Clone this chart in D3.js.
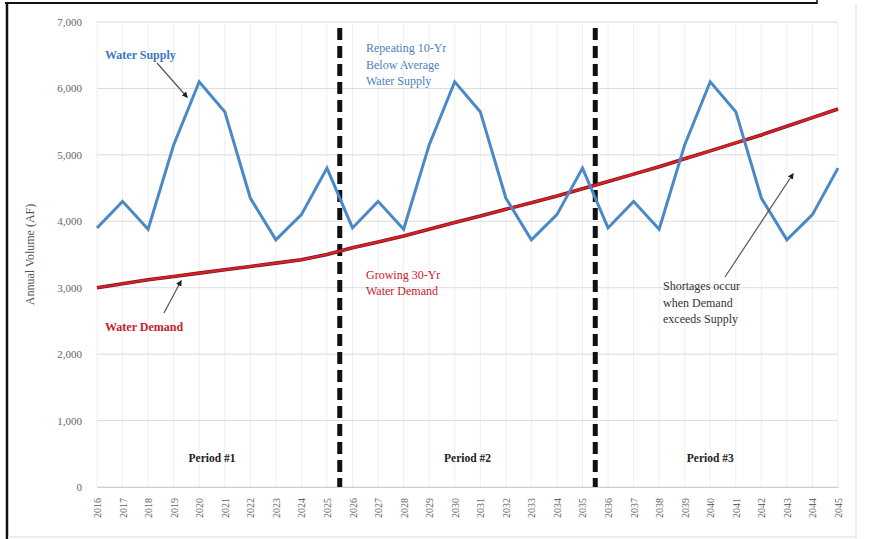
<!DOCTYPE html>
<html>
<head>
<meta charset="utf-8">
<script src="https://cdn.jsdelivr.net/npm/d3@7"></script>
<style>
  body { margin: 0; background: #fff; }
  svg { display: block; font-family: "Liberation Serif", "Times New Roman", serif; }
</style>
</head>
<body>
<div id="chart"></div>
<script>
// chart data
const years = d3.range(2016, 2046);
const supply10 = [3900, 4300, 3880, 5150, 6100, 5650, 4350, 3720, 4100, 4800];
const supply = [...supply10, ...supply10, ...supply10];
const demand = [3000, 3060, 3120, 3170, 3220, 3270, 3320, 3370, 3420, 3500,
                3600, 3690, 3780, 3880, 3980, 4080, 4180, 4280, 4380, 4490,
                4600, 4710, 4820, 4940, 5060, 5180, 5300, 5430, 5560, 5690];
const yTicks = [0, 1000, 2000, 3000, 4000, 5000, 6000, 7000];
const dividers = [2025.5, 2035.5];
const periods = [{ label: "Period #1", at: 2020.5 }, { label: "Period #2", at: 2030.5 }, { label: "Period #3", at: 2040 }];

const W = 871, H = 539;
const svg = d3.select("#chart").append("svg").attr("width", W).attr("height", H);

const x = d3.scalePoint().domain(years).range([97, 838]).padding(0);
const xv = (v) => x(2016) + (v - 2016) * x.step(); // fractional year position
const y = d3.scaleLinear().domain([0, 7000]).range([487, 22]);

// page frame (cropped document)
svg.append("line").attr("x1", 5).attr("x2", 817).attr("y1", 3).attr("y2", 3).attr("stroke", "#111").attr("stroke-width", 2);
svg.append("line").attr("x1", 817).attr("x2", 817).attr("y1", 0).attr("y2", 4).attr("stroke", "#111").attr("stroke-width", 1.5);
svg.append("line").attr("x1", 7).attr("x2", 7).attr("y1", 3).attr("y2", H).attr("stroke", "#111").attr("stroke-width", 2.5);
svg.append("line").attr("x1", 856).attr("x2", 856).attr("y1", 4).attr("y2", H).attr("stroke", "#e6e6e6").attr("stroke-width", 1.5);
svg.append("line").attr("x1", 8).attr("x2", 856).attr("y1", 537).attr("y2", 537).attr("stroke", "#ececec").attr("stroke-width", 2);

// gridlines
svg.append("g").selectAll("line").data(years).join("line")
  .attr("x1", d => x(d)).attr("x2", d => x(d))
  .attr("y1", y(7000)).attr("y2", y(0))
  .attr("stroke", "#efefef").attr("stroke-width", 1);
svg.append("g").selectAll("line").data(yTicks).join("line")
  .attr("x1", x(2016)).attr("x2", x(2045))
  .attr("y1", d => y(d)).attr("y2", d => y(d))
  .attr("stroke", "#dcdcdc").attr("stroke-width", 1);

// axes
const yAxis = svg.append("g").attr("transform", `translate(${x(2016) - 12},0)`)
  .call(d3.axisLeft(y).tickValues(yTicks).tickSize(0).tickFormat(d3.format(",")));
yAxis.select(".domain").remove();
yAxis.selectAll("text").attr("font-family", "Liberation Serif").attr("font-size", 11).attr("fill", "#666");

const xAxis = svg.append("g").attr("transform", `translate(0,${y(0)})`)
  .call(d3.axisBottom(x).tickSize(0).tickFormat(d3.format("d")));
xAxis.select(".domain").attr("stroke", "#cfcfcf");
xAxis.selectAll("text")
  .attr("font-family", "Liberation Serif").attr("font-size", 10).attr("fill", "#666")
  .attr("transform", "rotate(-90)")
  .attr("text-anchor", "end").attr("dx", "-0.5em").attr("dy", "-0.05em").attr("y", 4)
  .attr("x", -6);

svg.append("text")
  .attr("transform", `translate(34,${(y(0) + y(7000)) / 2}) rotate(-90)`)
  .attr("text-anchor", "middle").attr("font-size", 12).attr("fill", "#555")
  .text("Annual Volume (AF)");

// period dividers
svg.append("g").selectAll("line").data(dividers).join("line")
  .attr("x1", d => xv(d)).attr("x2", d => xv(d))
  .attr("y1", 28).attr("y2", y(0))
  .attr("stroke", "#111").attr("stroke-width", 5).attr("stroke-dasharray", "12,6");

// series
const line = d3.line().x((d, i) => x(years[i])).y(d => y(d));
svg.append("path").datum(demand).attr("d", line)
  .attr("fill", "none").attr("stroke", "#7a1414").attr("stroke-width", 3.6).attr("stroke-linejoin", "round");
svg.append("path").datum(demand).attr("d", line)
  .attr("fill", "none").attr("stroke", "#d8202a").attr("stroke-width", 2.2).attr("stroke-linejoin", "round");
svg.append("path").datum(supply).attr("d", line)
  .attr("fill", "none").attr("stroke", "#4a89c8").attr("stroke-width", 3).attr("stroke-linejoin", "miter");

// arrows
const defs = svg.append("defs");
defs.append("marker").attr("id", "ah").attr("viewBox", "0 0 10 10").attr("refX", 8).attr("refY", 5)
  .attr("markerWidth", 5).attr("markerHeight", 5).attr("orient", "auto")
  .append("path").attr("d", "M0,0L10,5L0,10z").attr("fill", "#222");
const arrow = (x1, y1, x2, y2, c) => svg.append("line")
  .attr("x1", x1).attr("y1", y1).attr("x2", x2).attr("y2", y2)
  .attr("stroke", c).attr("stroke-width", 1.2).attr("marker-end", "url(#ah)");
arrow(157, 63, 187, 97, "#555");
arrow(164, 313, 181, 281, "#555");
arrow(725, 277, 793, 174, "#555");

// annotations
const note = (lines, x0, y0, color, opts = {}) => {
  const t = svg.append("text").attr("x", x0).attr("y", y0).attr("fill", color)
    .attr("font-size", opts.size || 12).attr("font-weight", opts.bold ? "bold" : "normal")
    .attr("text-anchor", opts.anchor || "start");
  lines.forEach((l, i) => t.append("tspan").attr("x", x0).attr("dy", i ? (opts.lh || 16.5) : 0).text(l));
};
note(["Water Supply"], 105, 59, "#3a78c2", { bold: true });
note(["Water Demand"], 105, 331, "#c8202a", { bold: true });
note(["Repeating 10-Yr", "Below Average", "Water Supply"], 366, 52, "#4a7fbf");
note(["Growing 30-Yr", "Water Demand"], 366, 279, "#c8202a", { lh: 16 });
note(["Shortages occur", "when Demand", "exceeds Supply"], 663, 290, "#333");
periods.forEach(p => note([p.label], xv(p.at), 462, "#222", { bold: true, anchor: "middle", size: 11.5 }));
</script>
</body>
</html>
